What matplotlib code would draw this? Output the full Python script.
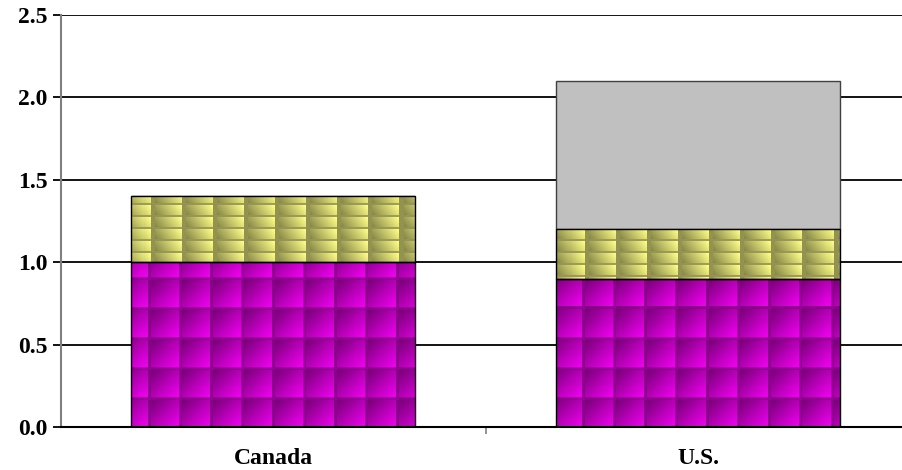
import numpy as np
import matplotlib
matplotlib.use("Agg")
import matplotlib.pyplot as plt

# data
countries = ["Canada", "U.S."]
base_part = [1.0, 0.9]      # magenta textured segment
middle_part = [0.4, 0.3]    # yellow textured segment
top_part = [0.0, 0.9]       # grey segment
y_ticks = [0.0, 0.5, 1.0, 1.5, 2.0, 2.5]

W, H = 902, 470
fig = plt.figure(figsize=(W / 100, H / 100), dpi=100)
ax_left, ax_right, ax_top, ax_bot = 60.5, 911.0, 15.0, 427.0
ax = fig.add_axes([ax_left / W, (H - ax_bot) / H,
                   (ax_right - ax_left) / W, (ax_bot - ax_top) / H])
ax.set_xlim(-0.5, 1.5)
ax.set_ylim(0, 2.5)


def magenta_tile(h=30, w=31):
    # dark top-left to bright bottom-right, thin darker seams
    v, u = np.mgrid[0:h, 0:w]
    v = v / (h - 1)
    u = u / (w - 1)
    t = np.clip((u + v) / 2, 0, 1)
    dark = np.array([0.47, 0.0, 0.47])
    bright = np.array([1.0, 0.0, 1.0])
    img = dark + t[..., None] * (bright - dark)
    band = (v > 0.9) | (u > 0.9)
    img[band] = dark + (0.25 * (u[band] + v[band]) / 2)[:, None] * (bright - dark)
    return img


def yellow_tile(h=12, w=31):
    v, u = np.mgrid[0:h, 0:w]
    v = v / (h - 1)
    u = u / (w - 1)
    t = np.clip(u * 0.85 + (1 - v) * 0.25 - 0.1, 0, 1)
    dark = np.array([0.50, 0.50, 0.27])
    bright = np.array([1.0, 1.0, 0.53])
    img = dark + t[..., None] * (bright - dark)
    band = (v > 0.82) | (u < 0.12)
    img[band] = dark + (0.15 + 0.1 * u[band])[:, None] * (bright - dark)
    return img


def texture(tile, ox=0, oy=0):
    ph = int(round(ax_bot - ax_top))
    pw = int(round(ax_right - ax_left))
    th, tw = tile.shape[:2]
    reps = (ph // th + 2, pw // tw + 2, 1)
    big = np.tile(tile, reps)
    return big[oy:oy + ph, ox:ox + pw]


x = np.arange(len(countries))
width = 0.668

ax.yaxis.grid(True, color="black", linewidth=1.3)
ax.set_axisbelow(True)

b1 = ax.bar(x, base_part, width, facecolor="none", edgecolor="black", linewidth=1.0, zorder=3)
b2 = ax.bar(x, middle_part, width, bottom=base_part, facecolor="none",
            edgecolor="black", linewidth=1.0, zorder=3)
bottom3 = [a + b for a, b in zip(base_part, middle_part)]
b3 = ax.bar(x, top_part, width, bottom=bottom3, facecolor="#c0c0c0",
            edgecolor="#404040", linewidth=1.0, zorder=2)

ext = (-0.5, 1.5, 0, 2.5)
for bars, tile, oy in ((b1, magenta_tile(), 5), (b2, yellow_tile(), 2)):
    tex = texture(tile, ox=3, oy=oy)
    for rect in bars:
        if rect.get_height() <= 0:
            continue
        im = ax.imshow(tex, extent=ext, origin="upper", interpolation="nearest",
                       aspect="auto", zorder=2)
        im.set_clip_path(rect)

for s in ("top", "right"):
    ax.spines[s].set_visible(False)
ax.spines["left"].set_color("#808080")
ax.spines["left"].set_linewidth(1.5)
ax.spines["bottom"].set_color("black")
ax.spines["bottom"].set_linewidth(1.5)

ax.set_yticks(y_ticks)
ax.set_yticklabels([f"{v:.1f}" for v in y_ticks], fontsize=17,
                   fontweight="bold", fontfamily="Liberation Serif")
ax.tick_params(axis="y", length=5.5, width=1.3, color="black", pad=4)

ax.set_xticks(x)
ax.set_xticklabels(countries, fontsize=17, fontweight="bold", fontfamily="Liberation Serif")
ax.tick_params(axis="x", length=0, pad=15)
ax.set_xticks([0.5], minor=True)
ax.tick_params(axis="x", which="minor", length=5, width=1.2, color="#808080")

fig.savefig("out.png", dpi=100)
